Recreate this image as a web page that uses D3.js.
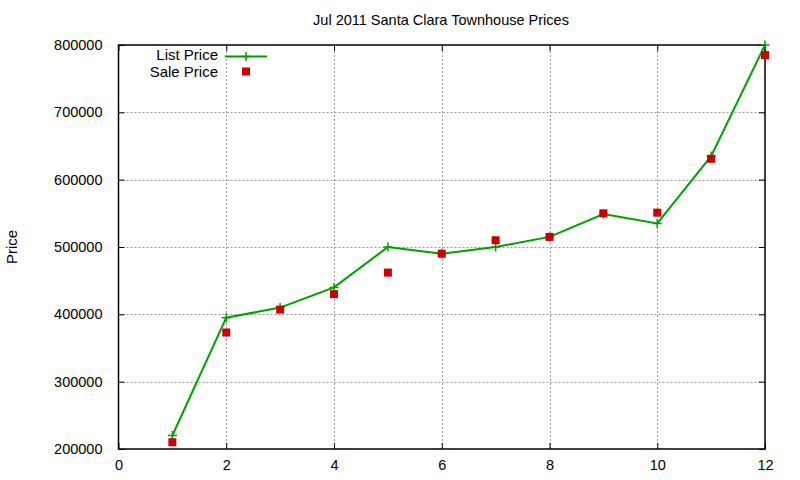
<!DOCTYPE html>
<html>
<head>
<meta charset="utf-8">
<script src="https://cdn.jsdelivr.net/npm/d3@7"></script>
<style>
  html, body { margin: 0; padding: 0; background: #fff; }
  svg text { font-family: "Liberation Sans", Arial, sans-serif; fill: #000; }
</style>
</head>
<body>
<div id="chart"></div>
<script>
// ── Data ──────────────────────────────────────────────────────────────────
const months = [1, 2, 3, 4, 5, 6, 7, 8, 9, 10, 11, 12];
const listPrice = [220000, 395000, 410000, 440000, 500000, 490000, 500000, 515000, 549000, 535000, 635000, 800000];
const salePrice = [210000, 373000, 407000, 430000, 462000, 490000, 510000, 515000, 550000, 551000, 631000, 785000];
const xTicks = [0, 2, 4, 6, 8, 10, 12];
const yTicks = [200000, 300000, 400000, 500000, 600000, 700000, 800000];

const width = 800, height = 480;
const margin = { top: 45, right: 35, bottom: 31, left: 118.5 };

const svg = d3.select("#chart").append("svg").attr("width", width).attr("height", height);

const x = d3.scaleLinear().domain([0, 12]).range([margin.left, width - margin.right]);
const y = d3.scaleLinear().domain([200000, 800000]).range([height - margin.bottom, margin.top]);

// ── Grid ──────────────────────────────────────────────────────────────────
const grid = svg.append("g").attr("stroke", "#999").attr("stroke-width", 1).attr("stroke-dasharray", "2 2");
grid.selectAll("line.gx").data(xTicks.slice(1, -1)).join("line")
  .attr("x1", d => Math.round(x(d)) + 0.5).attr("x2", d => Math.round(x(d)) + 0.5)
  .attr("y1", y(200000)).attr("y2", y(800000));
grid.selectAll("line.gy").data(yTicks.slice(1, -1)).join("line")
  .attr("y1", d => Math.round(y(d)) + 0.5).attr("y2", d => Math.round(y(d)) + 0.5)
  .attr("x1", x(0)).attr("x2", x(12));

// ── Axes (ticks inward, mirrored) ─────────────────────────────────────────
const fmt = d3.format("d");
const axisStyle = g => {
  g.select(".domain").remove();
  g.selectAll("text").attr("font-size", "14.5px").style("font-family", "'Liberation Sans', Arial, sans-serif");
  g.selectAll("line").attr("stroke", "#000");
};

svg.append("g").attr("transform", `translate(0,${y(200000)})`)
  .call(d3.axisBottom(x).tickValues(xTicks).tickSize(-6).tickPadding(11).tickFormat(fmt))
  .call(axisStyle);
svg.append("g").attr("transform", `translate(0,${y(800000)})`)
  .call(d3.axisTop(x).tickValues(xTicks).tickSize(-6).tickFormat(""))
  .call(axisStyle);
svg.append("g").attr("transform", `translate(${x(0)},0)`)
  .call(d3.axisLeft(y).tickValues(yTicks).tickSize(-6).tickPadding(16).tickFormat(fmt))
  .call(axisStyle);
svg.append("g").attr("transform", `translate(${x(12)},0)`)
  .call(d3.axisRight(y).tickValues(yTicks).tickSize(-6).tickFormat(""))
  .call(axisStyle);

svg.append("rect")
  .attr("x", x(0)).attr("y", y(800000))
  .attr("width", x(12) - x(0)).attr("height", y(200000) - y(800000))
  .attr("fill", "none").attr("stroke", "#000").attr("stroke-width", 1.5);

// ── Series ────────────────────────────────────────────────────────────────
const listPoints = months.map((m, i) => ({ m, v: listPrice[i] }));
const salePoints = months.map((m, i) => ({ m, v: salePrice[i] }));

svg.append("path").datum(listPoints)
  .attr("fill", "none").attr("stroke", "#00a000").attr("stroke-width", 2)
  .attr("d", d3.line().x(d => x(d.m)).y(d => y(d.v)));

const plus = "M-4.5,0H4.5M0,-4.5V4.5";
svg.append("g").selectAll("path").data(listPoints).join("path")
  .attr("transform", d => `translate(${x(d.m)},${y(d.v)})`)
  .attr("d", plus).attr("stroke", "#00a000").attr("stroke-width", 1.5).attr("fill", "none");

svg.append("g").selectAll("rect").data(salePoints).join("rect")
  .attr("x", d => x(d.m) - 4).attr("y", d => y(d.v) - 4)
  .attr("width", 8).attr("height", 8).attr("fill", "#cc0000");

// ── Legend ────────────────────────────────────────────────────────────────
const legend = svg.append("g");
legend.append("text").attr("x", 218).attr("y", 60).attr("text-anchor", "end").attr("font-size", "15px").text("List Price");
legend.append("line").attr("x1", 225).attr("x2", 267).attr("y1", 56.5).attr("y2", 56.5)
  .attr("stroke", "#00a000").attr("stroke-width", 2);
legend.append("path").attr("transform", "translate(246,56.5)").attr("d", plus)
  .attr("stroke", "#00a000").attr("stroke-width", 1.5);
legend.append("text").attr("x", 218).attr("y", 77).attr("text-anchor", "end").attr("font-size", "15px").text("Sale Price");
legend.append("rect").attr("x", 242).attr("y", 67.5).attr("width", 8).attr("height", 8).attr("fill", "#cc0000");

// ── Titles ────────────────────────────────────────────────────────────────
svg.append("text").attr("x", 441).attr("y", 25).attr("text-anchor", "middle").attr("font-size", "14.5px")
  .text("Jul 2011 Santa Clara Townhouse Prices");
svg.append("text").attr("transform", "translate(17,247) rotate(-90)").attr("text-anchor", "middle")
  .attr("font-size", "15px").text("Price");
</script>
</body>
</html>
